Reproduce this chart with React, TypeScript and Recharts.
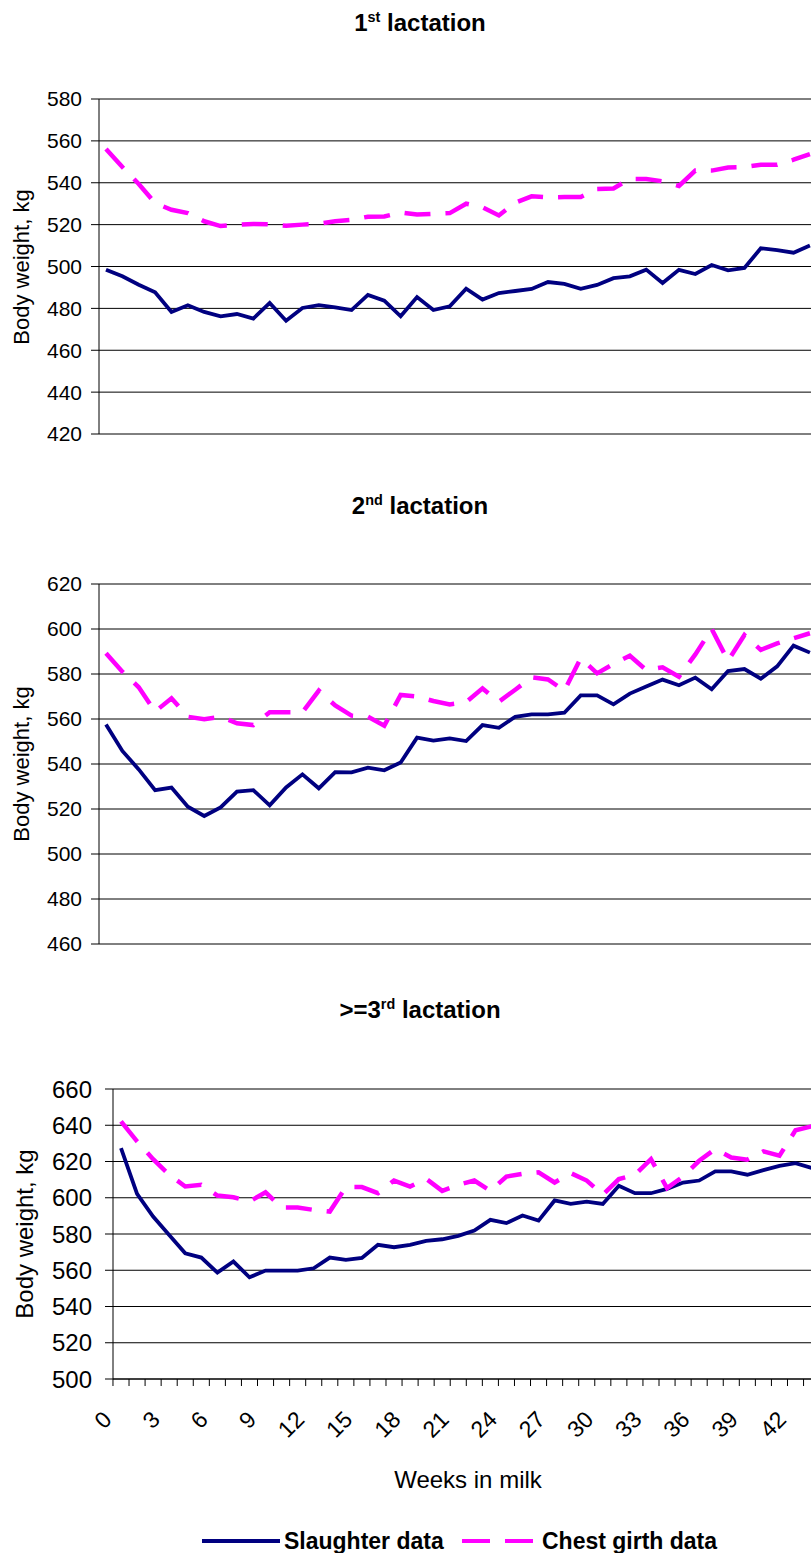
import React from 'react'
import { LineChart, Line, XAxis, YAxis, CartesianGrid } from 'recharts'

// weeks in milk (categories)
const WEEKS = [
  0, 1, 2, 3, 4, 5, 6, 7, 8, 9, 10, 11, 12, 13, 14, 15, 16, 17, 18, 19, 20, 21,
  22, 23, 24, 25, 26, 27, 28, 29, 30, 31, 32, 33, 34, 35, 36, 37, 38, 39, 40, 41, 42, 43,
]

// 1st lactation
const FIRST_SLAUGHTER = [
  498.5, 495.3, 491.3, 487.7, 478.3, 481.5, 478.3, 476.2, 477.3, 475.1, 482.6, 474.1, 480.2, 481.5, 480.5,
  479.2, 486.4, 483.7, 476.2, 485.4, 479.2, 481.0, 489.4, 484.2, 487.3, 488.3, 489.3, 492.6, 491.7, 489.3,
  491.2, 494.4, 495.3, 498.5, 492.1, 498.4, 496.4, 500.7, 498.2, 499.3, 508.7, 507.8, 506.6, 510.0,
]
const FIRST_CHEST = [
  556.1, 547.5, 539.4, 530.3, 527.1, 525.5, 521.6, 519.3, 519.9, 520.3, 520.1, 519.5, 520.0, 520.5, 521.6,
  522.3, 523.8, 523.9, 525.8, 524.8, 525.2, 525.5, 530.0, 528.3, 524.4, 530.5, 533.5, 533.0, 533.2, 533.2,
  537.0, 537.3, 541.8, 541.8, 540.7, 538.5, 545.8, 545.8, 547.3, 547.5, 548.6, 548.6, 551.0, 553.7,
]

// 2nd lactation
const SECOND_SLAUGHTER = [
  557.6, 545.8, 537.6, 528.4, 529.5, 521.0, 516.9, 520.7, 527.7, 528.4, 521.6, 529.6, 535.4, 529.2, 536.4,
  536.3, 538.4, 537.2, 540.7, 551.7, 550.4, 551.4, 550.2, 557.3, 556.1, 561.0, 562.1, 562.1, 562.8, 570.5,
  570.5, 566.5, 571.3, 574.4, 577.5, 575.0, 578.4, 573.2, 581.3, 582.2, 577.9, 583.4, 592.6, 589.5,
]
const SECOND_CHEST = [
  589.2, 581.0, 574.1, 563.3, 569.2, 561.0, 559.9, 561.0, 558.1, 557.3, 563.0, 563.0, 563.0, 572.6, 566.0,
  561.5, 561.0, 557.0, 570.7, 570.0, 568.0, 566.5, 567.5, 573.6, 567.7, 573.0, 578.5, 577.6, 572.6, 587.0,
  580.3, 584.5, 588.1, 581.8, 583.0, 578.8, 588.7, 600.0, 585.9, 597.3, 590.7, 593.6, 595.9, 598.1,
]

// >=3rd lactation
const THIRD_SLAUGHTER = [
  627.4, 602.2, 589.6, 579.5, 569.4, 567.0, 558.7, 564.8, 556.1, 559.8, 559.8, 559.8, 561.1, 567.0, 565.7,
  566.8, 574.0, 572.7, 574.0, 576.2, 577.1, 579.0, 581.9, 587.8, 586.0, 590.2, 587.4, 598.5, 596.6, 597.9,
  596.6, 606.6, 602.5, 602.5, 604.9, 608.4, 609.5, 614.5, 614.5, 612.7, 615.2, 617.6, 619.1, 616.4,
]
const THIRD_CHEST = [
  642.1, 631.1, 621.3, 612.7, 606.2, 607.1, 601.2, 600.3, 597.9, 603.0, 594.6, 594.6, 593.3, 592.4, 605.9,
  605.9, 602.5, 609.5, 606.2, 610.5, 603.8, 607.1, 609.5, 603.8, 611.7, 613.2, 614.0, 608.4, 613.6, 609.5,
  601.6, 610.3, 612.7, 621.3, 605.3, 611.7, 620.4, 626.9, 622.2, 621.0, 625.6, 623.2, 637.2, 639.4,
]

const FIRST_TICKS = [420, 440, 460, 480, 500, 520, 540, 560, 580]
const SECOND_TICKS = [460, 480, 500, 520, 540, 560, 580, 600, 620]
const THIRD_TICKS = [500, 520, 540, 560, 580, 600, 620, 640, 660]
const WEEK_LABEL_STEP = 3

const NAVY = '#000080'
const PINK = '#FF00FF'
const FONT = "'Liberation Sans', Arial, sans-serif"
const CHART_W = 830
const TOP_PAD = 20

function buildRows(slaughter: number[], chest: number[]) {
  return WEEKS.map((week, i) => ({ week, slaughter: slaughter[i], chest: chest[i] }))
}

// tick mark sits on the category boundary, label is rotated under the category
function WeekTick(props: any) {
  const { x, y, payload, half } = props
  const v = payload.value
  const ax = x - 8
  const ay = y + 42
  return (
    <g>
      <line x1={x - half} y1={y} x2={x - half} y2={y + 7} stroke="#000" strokeWidth={1} />
      {v % WEEK_LABEL_STEP === 0 && (
        <text
          x={ax}
          y={ay}
          textAnchor="end"
          transform={`rotate(-45 ${ax} ${ay})`}
          fontSize={23}
          fontFamily={FONT}
          fill="#000"
        >
          {v}
        </text>
      )}
    </g>
  )
}

interface PanelProps {
  slaughter: number[]
  chest: number[]
  ticks: number[]
  plotTop: number
  plotHeight: number
  plotLeft: number
  firstX: number
  step: number
  fontSize: number
  tickMargin: number
  showWeeks?: boolean
}

function Panel({ slaughter, chest, ticks, plotTop, plotHeight, plotLeft, firstX, step, fontSize, tickMargin, showWeeks }: PanelProps) {
  const lo = -(firstX - plotLeft) / step
  const hi = lo + (CHART_W - plotLeft) / step
  const bottom = showWeeks ? 79 : 19
  return (
    <div style={{ position: 'absolute', left: 0, top: plotTop - TOP_PAD }}>
      <LineChart
        width={CHART_W}
        height={TOP_PAD + plotHeight + bottom + 1}
        data={buildRows(slaughter, chest)}
        margin={{ top: TOP_PAD, right: 0, bottom, left: 0 }}
      >
        <CartesianGrid vertical={false} stroke="#000" strokeWidth={1} />
        {showWeeks ? (
          <XAxis
            dataKey="week"
            type="number"
            domain={[lo, hi]}
            allowDataOverflow
            ticks={WEEKS}
            interval={0}
            height={1}
            tickSize={0}
            tickMargin={0}
            tickLine={false}
            axisLine={{ stroke: '#000', strokeWidth: 1 }}
            tick={<WeekTick half={step / 2} />}
          />
        ) : (
          <XAxis dataKey="week" type="number" domain={[lo, hi]} allowDataOverflow height={1} tick={false} tickLine={false} axisLine={false} />
        )}
        <YAxis
          type="number"
          domain={[ticks[0], ticks[ticks.length - 1]]}
          ticks={ticks}
          interval={0}
          width={plotLeft}
          tickSize={8}
          tickMargin={tickMargin}
          axisLine={{ stroke: '#000', strokeWidth: 1 }}
          tickLine={{ stroke: '#000', strokeWidth: 1 }}
          tick={{ fill: '#000', fontSize, fontFamily: FONT }}
        />
        <Line
          type="linear"
          dataKey="slaughter"
          stroke={NAVY}
          strokeWidth={3.8}
          dot={false}
          isAnimationActive={false}
        />
        <Line
          type="linear"
          dataKey="chest"
          stroke={PINK}
          strokeWidth={4.5}
          strokeDasharray="26 15"
          dot={false}
          isAnimationActive={false}
        />
      </LineChart>
    </div>
  )
}

const textBase: React.CSSProperties = { position: 'absolute', fontFamily: FONT, color: '#000', lineHeight: 1, whiteSpace: 'nowrap' }
const supStyle: React.CSSProperties = { fontSize: '0.6em', position: 'relative', top: '-0.65em' }

function Title({ top, children }: { top: number; children: React.ReactNode }) {
  return (
    <div style={{ ...textBase, top, left: 270, width: 300, textAlign: 'center', fontSize: 24, fontWeight: 'bold' }}>
      {children}
    </div>
  )
}

function YTitle({ cx, cy, size }: { cx: number; cy: number; size: number }) {
  return (
    <div
      style={{
        ...textBase,
        left: cx - 150,
        top: cy - size / 2,
        width: 300,
        height: size,
        fontSize: size,
        textAlign: 'center',
        transform: 'rotate(-90deg)',
      }}
    >
      Body weight, kg
    </div>
  )
}

export default function App() {
  return (
    <div style={{ position: 'fixed', left: 0, top: 0, width: 811, height: 1553, overflow: 'hidden', background: '#fff' }}>
      <Title top={11}>
        1<span style={supStyle}>st</span> lactation
      </Title>
      <YTitle cx={22} cy={267} size={22} />
      <Panel
        slaughter={FIRST_SLAUGHTER}
        chest={FIRST_CHEST}
        ticks={FIRST_TICKS}
        plotTop={99}
        plotHeight={335}
        plotLeft={99}
        firstX={106}
        step={16.37}
        fontSize={21}
        tickMargin={9}
      />

      <Title top={494}>
        2<span style={supStyle}>nd</span> lactation
      </Title>
      <YTitle cx={22} cy={764} size={22} />
      <Panel
        slaughter={SECOND_SLAUGHTER}
        chest={SECOND_CHEST}
        ticks={SECOND_TICKS}
        plotTop={584}
        plotHeight={360}
        plotLeft={99}
        firstX={106}
        step={16.37}
        fontSize={21}
        tickMargin={9}
      />

      <Title top={998}>
        &gt;=3<span style={supStyle}>rd</span> lactation
      </Title>
      <YTitle cx={25} cy={1234} size={24} />
      <Panel
        slaughter={THIRD_SLAUGHTER}
        chest={THIRD_CHEST}
        ticks={THIRD_TICKS}
        plotTop={1089}
        plotHeight={290}
        plotLeft={113}
        firstX={121}
        step={16.06}
        fontSize={24}
        tickMargin={13}
        showWeeks
      />

      <div style={{ ...textBase, top: 1468, left: 318, width: 300, textAlign: 'center', fontSize: 24 }}>Weeks in milk</div>

      {/* legend */}
      <svg style={{ position: 'absolute', left: 202, top: 1536 }} width={78} height={10}>
        <line x1={0} y1={5} x2={78} y2={5} stroke={NAVY} strokeWidth={4} />
      </svg>
      <div style={{ ...textBase, top: 1530, left: 284, fontSize: 23, fontWeight: 'bold' }}>Slaughter data</div>
      <svg style={{ position: 'absolute', left: 462, top: 1536 }} width={72} height={10}>
        <line x1={0} y1={5} x2={72} y2={5} stroke={PINK} strokeWidth={4} strokeDasharray="28 15" />
      </svg>
      <div style={{ ...textBase, top: 1530, left: 542, fontSize: 23, fontWeight: 'bold' }}>Chest girth data</div>
    </div>
  )
}
